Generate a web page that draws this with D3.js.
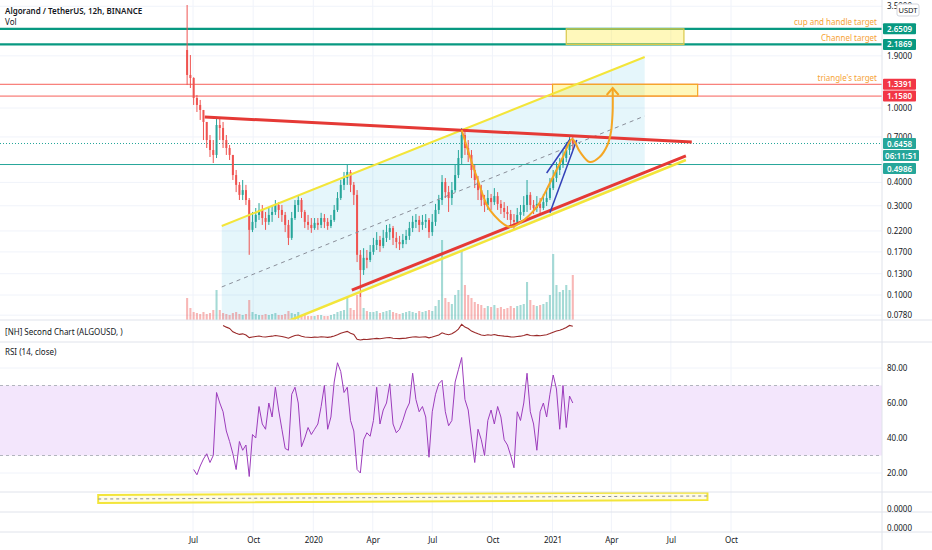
<!DOCTYPE html>
<html>
<head>
<meta charset="utf-8">
<script src="https://cdn.jsdelivr.net/npm/d3@7"></script>
<style>
  body { margin: 0; background: #fff; }
  svg { display: block; }
  text { font-family: "Noto Sans", "Open Sans", sans-serif; }
</style>
</head>
<body>
<svg id="chart" width="932" height="550"></svg>
<script>
// ---- data (5-day candles) ----
const parseDay = d3.timeParse("%Y-%m-%d");
const startDate = parseDay("2019-06-22");
const stepDays = 5;
const firstOpen = 2.043;

const closes = [1.502, 1.447, 1.131, 1.038, 0.976, 0.842, 0.674, 0.596, 0.561, 0.811,
  0.782, 0.674, 0.611, 0.561, 0.438, 0.388, 0.343, 0.364, 0.322, 0.223,
  0.246, 0.268, 0.285, 0.258, 0.246, 0.268, 0.278, 0.303, 0.285, 0.268,
  0.237, 0.202, 0.258, 0.303, 0.322, 0.278, 0.246, 0.237, 0.228, 0.243,
  0.237, 0.258, 0.246, 0.234, 0.252, 0.285, 0.330, 0.388, 0.422, 0.455,
  0.388, 0.343, 0.164, 0.136, 0.158, 0.154, 0.170, 0.185, 0.197, 0.183,
  0.202, 0.217, 0.228, 0.202, 0.192, 0.187, 0.197, 0.207, 0.228, 0.246,
  0.252, 0.237, 0.246, 0.252, 0.217, 0.246, 0.285, 0.322, 0.402, 0.355,
  0.330, 0.364, 0.438, 0.540, 0.717, 0.611, 0.561, 0.466, 0.412, 0.364,
  0.322, 0.303, 0.330, 0.314, 0.338, 0.307, 0.292, 0.278, 0.271, 0.252,
  0.246, 0.268, 0.278, 0.303, 0.343, 0.303, 0.292, 0.307, 0.292, 0.314,
  0.330, 0.373, 0.422, 0.466, 0.496, 0.540, 0.596, 0.674, 0.6458];

const highs = [3.554, 1.920, 1.460, 1.174, 1.104, 0.976, 0.811, 0.717, 0.674, 0.884,
  0.884, 0.842, 0.717, 0.634, 0.561, 0.466, 0.402, 0.412, 0.388, 0.330,
  0.278, 0.292, 0.310, 0.303, 0.278, 0.292, 0.303, 0.322, 0.314, 0.303,
  0.278, 0.252, 0.278, 0.322, 0.338, 0.330, 0.285, 0.268, 0.258, 0.258,
  0.258, 0.275, 0.271, 0.258, 0.268, 0.303, 0.355, 0.412, 0.455, 0.496,
  0.466, 0.402, 0.364, 0.174, 0.178, 0.174, 0.185, 0.202, 0.217, 0.207,
  0.223, 0.237, 0.240, 0.234, 0.217, 0.207, 0.212, 0.223, 0.246, 0.265,
  0.271, 0.265, 0.268, 0.271, 0.258, 0.271, 0.307, 0.343, 0.438, 0.422,
  0.383, 0.402, 0.496, 0.596, 0.782, 0.763, 0.674, 0.596, 0.496, 0.433,
  0.388, 0.343, 0.364, 0.347, 0.373, 0.355, 0.322, 0.314, 0.299, 0.285,
  0.271, 0.292, 0.303, 0.338, 0.412, 0.355, 0.322, 0.338, 0.330, 0.347,
  0.373, 0.422, 0.466, 0.514, 0.540, 0.596, 0.658, 0.708, 0.700];

const lows = [1.327, 1.279, 1.038, 0.952, 0.863, 0.674, 0.611, 0.547, 0.508, 0.540,
  0.674, 0.611, 0.561, 0.527, 0.412, 0.355, 0.322, 0.322, 0.303, 0.164,
  0.217, 0.228, 0.252, 0.237, 0.223, 0.237, 0.246, 0.268, 0.258, 0.246,
  0.217, 0.185, 0.197, 0.252, 0.278, 0.258, 0.228, 0.223, 0.215, 0.223,
  0.223, 0.228, 0.228, 0.223, 0.228, 0.246, 0.278, 0.322, 0.364, 0.388,
  0.355, 0.303, 0.150, 0.0976, 0.128, 0.139, 0.150, 0.164, 0.174, 0.170,
  0.178, 0.192, 0.197, 0.185, 0.178, 0.174, 0.178, 0.187, 0.197, 0.217,
  0.228, 0.217, 0.223, 0.228, 0.202, 0.207, 0.234, 0.271, 0.303, 0.330,
  0.278, 0.303, 0.355, 0.422, 0.496, 0.561, 0.514, 0.422, 0.373, 0.322,
  0.299, 0.278, 0.285, 0.285, 0.303, 0.285, 0.271, 0.258, 0.252, 0.234,
  0.225, 0.240, 0.252, 0.265, 0.278, 0.285, 0.271, 0.278, 0.271, 0.285,
  0.299, 0.322, 0.364, 0.402, 0.438, 0.478, 0.514, 0.561, 0.596];

const volumes = [22, 12, 8, 7, 6, 8, 6, 7, 10, 30,
  10, 7, 6, 5, 7, 8, 6, 5, 6, 20,
  8, 6, 5, 5, 6, 5, 6, 7, 5, 5,
  6, 9, 7, 6, 8, 5, 5, 4, 4, 4,
  5, 5, 4, 4, 5, 6, 8, 9, 10, 22,
  12, 10, 25, 28, 12, 9, 8, 8, 9, 7,
  8, 9, 10, 8, 7, 6, 7, 8, 9, 8,
  7, 9, 8, 9, 10, 9, 14, 20, 80, 22,
  18, 16, 25, 30, 70, 35, 25, 22, 18, 16,
  15, 12, 14, 13, 15, 12, 13, 11, 12, 14,
  12, 14, 15, 16, 38, 20, 15, 14, 15, 16,
  18, 25, 66, 35, 28, 30, 35, 30, 45];

const rsiValues = [null, null, 22, 19, 24, 28, 31, 26, 30, 66,
  60, 55, 44, 38, 31, 22, 38, 33, 36, 18,
  42, 40, 58, 48, 45, 60, 52, 69, 56, 45,
  34, 33, 65, 69, 60, 35, 40, 46, 42, 45,
  48, 58, 70, 45, 52, 72, 83, 78, 66, 69,
  50, 44, 22, 20, 39, 43, 41, 50, 69, 48,
  56, 60, 71, 48, 43, 45, 50, 56, 60, 77,
  62, 55, 58, 52, 29, 55, 65, 71, 73, 55,
  47, 50, 72, 79, 86, 62, 56, 40, 26, 45,
  39, 30, 50, 56, 48, 58, 52, 39, 36, 30,
  23, 55, 50, 60, 77, 55, 48, 33, 55, 60,
  52, 65, 76, 68, 45, 70, 46, 64, 60];

const secondStart = 11; // ALGOUSD series begins a little later

// axis ticks
const priceTicks = [3.5, 1.9, 1.0, 0.7, 0.4, 0.3, 0.22, 0.17, 0.13, 0.1, 0.078];
const rsiTicks = [20, 40, 60, 80];
const timeTicks = ["2019-07-01", "2019-10-01", "2020-01-01", "2020-04-01", "2020-07-01",
  "2020-10-01", "2021-01-01", "2021-04-01", "2021-07-01", "2021-10-01"];

// horizontal levels
const targetLevels = [2.6509, 2.1869];
const triangleLevels = [1.3391, 1.1580];
const supportLevel = 0.4986;
const lastPrice = 0.6458;
const countdown = "06:11:51";

// drawings, anchored as [date, price]
const resistanceLine = [["2019-07-19", 0.895], ["2021-08-02", 0.658]];
const supportLine = [["2020-02-29", 0.1063], ["2021-07-24", 0.554]];
const channelUpper = [["2019-08-14", 0.234], ["2021-05-22", 1.874]];
const channelMiddle = [["2019-08-14", 0.1104], ["2021-05-22", 0.906]];
const channelLower = [["2019-08-14", 0.0521], ["2021-05-22", 0.433]];
const lowerExtension = [["2019-08-14", 0.0521], ["2021-07-24", 0.527]];
const wedgeUpper = [["2020-12-23", 0.449], ["2021-01-28", 0.683]];
const wedgeLower = [["2020-12-28", 0.275], ["2021-02-07", 0.674]];
const cupPath = [["2020-08-15", 0.763], ["2020-09-07", 0.428], ["2020-09-27", 0.285],
  ["2020-10-28", 0.231], ["2020-11-12", 0.243], ["2020-12-08", 0.296], ["2020-12-28", 0.397],
  ["2021-01-17", 0.547], ["2021-01-31", 0.683], ["2021-02-12", 0.582], ["2021-02-27", 0.514],
  ["2021-03-14", 0.547], ["2021-03-26", 0.634], ["2021-04-01", 0.763]];
const arrowShaft = [["2021-04-01", 0.763], ["2021-04-03", 0.96], ["2021-04-03", 1.279]];
const cupBox = [["2021-01-22", 2.6509], ["2021-07-21", 2.1869]];
const triangleBox = [["2021-01-01", 1.3391], ["2021-08-11", 1.1580]];
const rsiBandDates = ["2019-02-06", "2021-08-26"];

// ---- layout ----
const W = 932, axisX = 882;
const mainBottom = 320, secondBottom = 342, rsiBottom = 492, pane3Bottom = 512, pane4Bottom = 532;
const fs = 8; // small TradingView-like labels

const svg = d3.select("#chart");
const defs = svg.append("defs");

const x = d3.scaleTime()
    .domain([parseDay("2019-07-01"), parseDay("2021-10-01")])
    .range([193, 731]);
const y = d3.scaleLog().domain([0.1, 1]).range([295, 108]);
const yVol = d3.scaleLinear().domain([0, 100]).range([mainBottom, mainBottom - 100]);
const ySecond = d3.scaleLinear().domain([0.1, 0.8]).range([341, 322]);
const yRsi = d3.scaleLinear().domain([20, 80]).range([473, 368]);
const yBand = d3.scaleLinear().domain([0, 1]).range([pane3Bottom, rsiBottom]);

function clip(id, top, bottom) {
    defs.append("clipPath").attr("id", id)
        .append("rect").attr("x", 0).attr("y", top).attr("width", axisX).attr("height", bottom - top);
}
clip("clipMain", 0, mainBottom);
clip("clipSecond", mainBottom, secondBottom);
clip("clipRsi", secondBottom, rsiBottom);
clip("clipP3", rsiBottom, pane3Bottom);

const candles = closes.map((c, i) => {
    const o = i === 0 ? firstOpen : closes[i - 1];
    return {
        date: d3.timeDay.offset(startDate, i * stepDays),
        o: o, c: c,
        h: Math.max(highs[i], o, c),
        l: Math.min(lows[i], o, c),
        v: volumes[i],
        rsi: rsiValues[i]
    };
});

const pt = d => [x(parseDay(d[0])), y(d[1])];
const line = d3.line();

// ---- grid ----
const grid = svg.append("g");
grid.selectAll(".vgrid").data(timeTicks).join("line")
    .attr("x1", d => x(parseDay(d))).attr("x2", d => x(parseDay(d)))
    .attr("y1", 0).attr("y2", pane4Bottom)
    .attr("stroke", "#f0f3fa");
grid.selectAll(".hgrid").data(priceTicks).join("line")
    .attr("x1", 0).attr("x2", axisX)
    .attr("y1", d => y(d)).attr("y2", d => y(d))
    .attr("stroke", "#f0f3fa");
grid.selectAll(".rgrid").data(rsiTicks).join("line")
    .attr("x1", 0).attr("x2", axisX)
    .attr("y1", d => yRsi(d)).attr("y2", d => yRsi(d))
    .attr("stroke", "#f0f3fa");

// ---- main pane ----
const main = svg.append("g").attr("clip-path", "url(#clipMain)");

// channel fill
const cu = channelUpper.map(pt), cl = channelLower.map(pt);
main.append("path")
    .attr("d", line([cu[0], cu[1], cl[1], cl[0]]) + "Z")
    .attr("fill", "rgba(41,182,222,0.12)");

// volume
const bw = (x(d3.timeDay.offset(startDate, stepDays)) - x(startDate));
main.selectAll(".vol").data(candles).join("rect")
    .attr("x", d => x(d.date) - bw / 2 + 0.6)
    .attr("width", bw - 1.2)
    .attr("y", d => yVol(d.v))
    .attr("height", d => mainBottom - yVol(d.v))
    .attr("fill", d => d.c >= d.o ? "rgba(38,166,154,0.42)" : "rgba(239,83,80,0.42)");

// horizontal levels
main.selectAll(".target").data(targetLevels).join("line")
    .attr("x1", 0).attr("x2", axisX)
    .attr("y1", d => y(d)).attr("y2", d => y(d))
    .attr("stroke", "#089981").attr("stroke-width", 2.2);
main.selectAll(".tri").data(triangleLevels).join("line")
    .attr("x1", 0).attr("x2", axisX)
    .attr("y1", d => y(d)).attr("y2", d => y(d))
    .attr("stroke", "#f7605a").attr("stroke-width", 1);
main.append("line")
    .attr("x1", 0).attr("x2", axisX)
    .attr("y1", y(supportLevel)).attr("y2", y(supportLevel))
    .attr("stroke", "#26a69a").attr("stroke-width", 1);
main.append("line")
    .attr("x1", 0).attr("x2", axisX)
    .attr("y1", y(lastPrice)).attr("y2", y(lastPrice))
    .attr("stroke", "#26a69a").attr("stroke-width", 1).attr("stroke-dasharray", "1,2");

// candles
const cg = main.selectAll(".candle").data(candles).join("g")
    .attr("stroke", d => d.c >= d.o ? "#26a69a" : "#ef5350")
    .attr("fill", d => d.c >= d.o ? "#26a69a" : "#ef5350");
cg.append("line")
    .attr("x1", d => x(d.date)).attr("x2", d => x(d.date))
    .attr("y1", d => y(d.h)).attr("y2", d => y(d.l))
    .attr("stroke-width", 1);
cg.append("rect")
    .attr("stroke", "none")
    .attr("x", d => x(d.date) - 1)
    .attr("width", 2)
    .attr("y", d => y(Math.max(d.o, d.c)))
    .attr("height", d => Math.max(1, Math.abs(y(d.o) - y(d.c))));

// target boxes
function box(b, stroke) {
    const a = pt(b[0]), c = pt(b[1]);
    main.append("rect")
        .attr("x", a[0]).attr("y", a[1])
        .attr("width", c[0] - a[0]).attr("height", c[1] - a[1])
        .attr("fill", "rgba(255,235,59,0.35)")
        .attr("stroke", stroke).attr("stroke-width", 1.2);
}
box(cupBox, "#d9c84a");
box(triangleBox, "#f5a623");

// channel lines
main.append("path").attr("d", line(cu)).attr("stroke", "#f3e53a").attr("stroke-width", 2).attr("fill", "none");
main.append("path").attr("d", line(lowerExtension.map(pt))).attr("stroke", "#f3e53a").attr("stroke-width", 2.5).attr("fill", "none");
main.append("path").attr("d", line(channelMiddle.map(pt)))
    .attr("stroke", "#8a8e99").attr("stroke-width", 1).attr("stroke-dasharray", "4,4").attr("fill", "none");

// triangle
main.append("path").attr("d", line(resistanceLine.map(pt))).attr("stroke", "#e53935").attr("stroke-width", 3).attr("fill", "none");
main.append("path").attr("d", line(supportLine.map(pt))).attr("stroke", "#e53935").attr("stroke-width", 3).attr("fill", "none");

// rising wedge
[wedgeUpper, wedgeLower].forEach(w => {
    main.append("path").attr("d", line(w.map(pt))).attr("stroke", "#3341b8").attr("stroke-width", 1.5).attr("fill", "none");
});

// cup and handle + arrow
main.append("path")
    .attr("d", d3.line().curve(d3.curveCatmullRom.alpha(0.5))(cupPath.map(pt)))
    .attr("stroke", "#f5a623").attr("stroke-width", 2).attr("fill", "none");
const shaft = arrowShaft.map(pt);
main.append("path")
    .attr("d", d3.line().curve(d3.curveCatmullRom.alpha(0.5))(shaft))
    .attr("stroke", "#f5a623").attr("stroke-width", 2).attr("fill", "none");
const tip = shaft[shaft.length - 1];
main.append("path")
    .attr("d", `M${tip[0] - 6},${tip[1] + 7}L${tip[0]},${tip[1]}L${tip[0] + 6},${tip[1] + 7}`)
    .attr("stroke", "#f5a623").attr("stroke-width", 2).attr("fill", "none");

// target labels
const targetLabels = [["cup and handle target", 2.6509], ["Channel target", 2.1869], ["triangle's target", 1.3391]];
svg.selectAll(".tlabel").data(targetLabels).join("text")
    .attr("x", 877).attr("y", d => y(d[1]) - 3.5)
    .attr("text-anchor", "end")
    .attr("font-size", fs).attr("fill", "#f6a335")
    .text(d => d[0]);

// ---- second chart pane ----
const second = svg.append("g").attr("clip-path", "url(#clipSecond)");
second.append("path")
    .attr("d", d3.line().x(d => x(d.date)).y(d => ySecond(d.c))(candles.slice(secondStart)))
    .attr("stroke", "#9a2a2a").attr("stroke-width", 1.1).attr("fill", "none");

// ---- RSI pane ----
const rsiG = svg.append("g").attr("clip-path", "url(#clipRsi)");
rsiG.append("rect")
    .attr("x", 0).attr("width", axisX)
    .attr("y", yRsi(70)).attr("height", yRsi(30) - yRsi(70))
    .attr("fill", "#f3e6fc");
[70, 30].forEach(v => {
    rsiG.append("line").attr("x1", 0).attr("x2", axisX)
        .attr("y1", yRsi(v)).attr("y2", yRsi(v))
        .attr("stroke", "#b2b5be").attr("stroke-dasharray", "3,3");
});
rsiG.append("path")
    .attr("d", d3.line().defined(d => d.rsi != null).x(d => x(d.date)).y(d => yRsi(d.rsi))(candles))
    .attr("stroke", "#9c3cbc").attr("stroke-width", 1).attr("fill", "none");

// ---- third pane: highlighted band ----
const p3 = svg.append("g").attr("clip-path", "url(#clipP3)");
const bx0 = x(parseDay(rsiBandDates[0])), bx1 = x(parseDay(rsiBandDates[1]));
p3.append("path")
    .attr("d", line([[bx0, yBand(0.85)], [bx1, yBand(0.975)], [bx1, yBand(0.6)], [bx0, yBand(0.45)]]) + "Z")
    .attr("fill", "rgba(255,245,150,0.25)").attr("stroke", "#f3e53a").attr("stroke-width", 2);
p3.append("line")
    .attr("x1", bx0).attr("x2", bx1)
    .attr("y1", yBand(0.65)).attr("y2", yBand(0.8))
    .attr("stroke", "#8a8e99").attr("stroke-dasharray", "3,3");

// ---- pane separators ----
[mainBottom, secondBottom, rsiBottom, pane3Bottom, pane4Bottom].forEach(v => {
    svg.append("line").attr("x1", 0).attr("x2", W).attr("y1", v).attr("y2", v).attr("stroke", "#e0e3eb");
});
svg.append("line").attr("x1", axisX).attr("x2", axisX).attr("y1", 0).attr("y2", 550).attr("stroke", "#e0e3eb");

// ---- axes ----
function styleAxis(g) {
    g.select(".domain").remove();
    g.selectAll("text").attr("fill", "#131722").attr("font-size", fs)
        .attr("font-family", "'Noto Sans', sans-serif");
}
svg.append("g").attr("transform", `translate(${axisX},0)`)
    .call(d3.axisRight(y).tickValues(priceTicks).tickFormat(d3.format(".4f")).tickSize(0).tickPadding(5))
    .call(styleAxis);
svg.append("g").attr("transform", `translate(${axisX},0)`)
    .call(d3.axisRight(yRsi).tickValues(rsiTicks).tickFormat(d3.format(".2f")).tickSize(0).tickPadding(5))
    .call(styleAxis);
svg.append("g").attr("transform", `translate(0,537)`)
    .call(d3.axisBottom(x).tickValues(timeTicks.map(parseDay)).tickSize(0).tickPadding(0)
        .tickFormat(d => d.getMonth() === 0 ? d3.timeFormat("%Y")(d) : d3.timeFormat("%b")(d)))
    .call(styleAxis);

[[rsiBottom + 20, "0.0000"], [pane3Bottom + 19, "0.0000"]].forEach(d => {
    svg.append("text").attr("x", axisX + 5).attr("y", d[0])
        .attr("font-size", fs).attr("fill", "#131722").text(d[1]);
});

// price tags
const tags = [
    [2.6509, "2.6509", "#089981", 0],
    [2.1869, "2.1869", "#089981", 0],
    [1.3391, "1.3391", "#f23645", 0],
    [1.1580, "1.1580", "#f23645", 0],
    [lastPrice, "0.6458", "#26a69a", 0],
    [lastPrice, countdown, "#26a69a", 12],
    [supportLevel, "0.4986", "#26a69a", 4]
];
const tg = svg.selectAll(".tag").data(tags).join("g")
    .attr("transform", d => `translate(${axisX + 1},${y(d[0]) + d[3]})`);
tg.append("rect")
    .attr("x", 0).attr("y", -5.5).attr("width", d => d[1].length > 6 ? 36 : 33).attr("height", 11)
    .attr("rx", 1).attr("fill", d => d[2]);
tg.append("text")
    .attr("x", d => d[1].length > 6 ? 18 : 16.5).attr("y", 3)
    .attr("text-anchor", "middle").attr("font-size", fs).attr("font-weight", 600)
    .attr("fill", "#fff").text(d => d[1]);

// currency box
svg.append("rect").attr("x", 897).attr("y", 4).attr("width", 22).attr("height", 12)
    .attr("rx", 2).attr("fill", "#fff").attr("stroke", "#d1d4dc");
svg.append("text").attr("x", 908).attr("y", 13).attr("text-anchor", "middle")
    .attr("font-size", 7.5).attr("fill", "#131722").text("USDT");

// ---- legends ----
svg.append("text").attr("x", 5).attr("y", 14).attr("font-size", fs).attr("font-weight", 600)
    .attr("fill", "#131722").text("Algorand / TetherUS, 12h, BINANCE");
svg.append("text").attr("x", 5).attr("y", 25).attr("font-size", fs)
    .attr("fill", "#131722").text("Vol");
svg.append("text").attr("x", 5).attr("y", 335).attr("font-size", fs)
    .attr("fill", "#131722").text("[NH] Second Chart (ALGOUSD, )");
svg.append("text").attr("x", 5).attr("y", 355).attr("font-size", fs)
    .attr("fill", "#131722").text("RSI (14, close)");
</script>
</body>
</html>
